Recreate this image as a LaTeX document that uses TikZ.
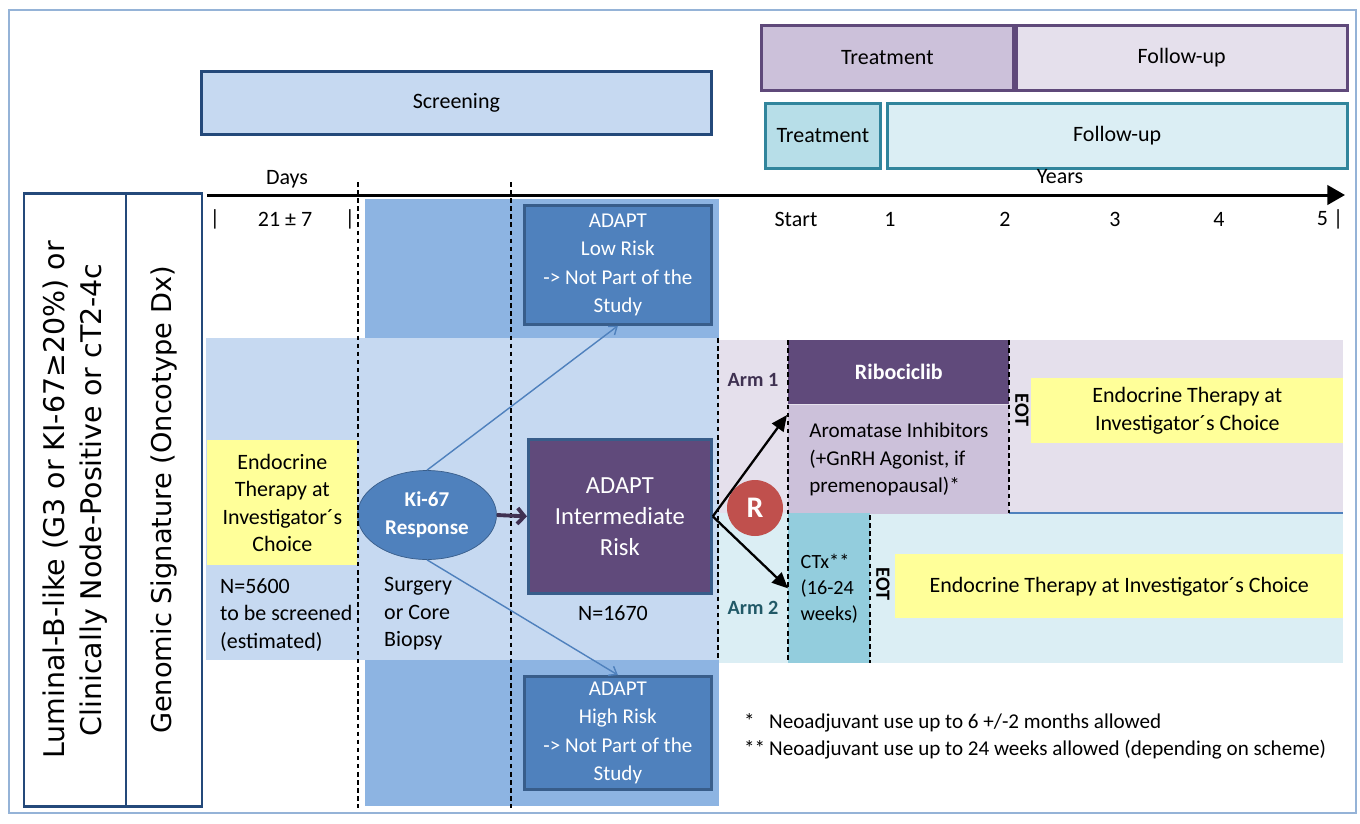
\documentclass[tikz,border=0pt]{standalone}
\usepackage{fontspec}
\setmainfont{Carlito}
\newfontfamily\widefont{DejaVu Sans}
\usetikzlibrary{arrows.meta, positioning, shapes.geometric}

\definecolor{framecol}{HTML}{95B3D7}
\definecolor{sideline}{HTML}{24497A}
\definecolor{screenfill}{HTML}{C6D9F1}
\definecolor{colfill}{HTML}{8DB4E2}
\definecolor{adaptblue}{HTML}{4F81BD}
\definecolor{adaptline}{HTML}{385D8A}
\definecolor{interfill}{HTML}{604A7B}
\definecolor{purpleline}{HTML}{5F497A}
\definecolor{purplemid}{HTML}{CCC1DA}
\definecolor{lavender}{HTML}{E5E0EC}
\definecolor{tealline}{HTML}{31859C}
\definecolor{teallight}{HTML}{B7DEE8}
\definecolor{tealpale}{HTML}{DBEEF4}
\definecolor{ctxfill}{HTML}{93CDDD}
\definecolor{yellowfill}{HTML}{FFFF99}
\definecolor{rred}{HTML}{C0504D}
\definecolor{armone}{HTML}{3F3151}
\definecolor{armtwo}{HTML}{215967}
\definecolor{kiarrowcol}{HTML}{403152}

\begin{document}
\begin{tikzpicture}[x=0.02cm, y=-0.02cm,
    font=\fontsize{12.5}{15.6}\selectfont,
    phase/.style={draw, line width=1.6pt, minimum height=1.3cm, anchor=north west},
    riskbox/.style={draw=adaptline, fill=adaptblue, line width=1.6pt, text=white, align=center,
        minimum width=3.74cm, anchor=north west, font=\fontsize{12}{16}\selectfont},
    sidebox/.style={draw=sideline, line width=1.6pt, rotate=90, minimum width=12.26cm, align=center,
        font=\widefont\fontsize{15.5}{21}\selectfont},
    yellowbox/.style={fill=yellowfill, align=center, anchor=north west},
    armbox/.style={anchor=north west, inner sep=0pt},
    armlabel/.style={font=\bfseries\fontsize{11.5}{14}\selectfont},
    eot/.style={rotate=-90, font=\bfseries\fontsize{11.5}{12}\selectfont},
    divider/.style={line width=0.9pt, dash pattern=on 2.6pt off 2pt},
    axisline/.style={line width=1.7pt, -{Triangle[length=10pt, width=11pt]}},
    thinarrow/.style={adaptblue, line width=0.8pt, -{Straight Barb[length=4pt, width=6pt]}},
    kiarrow/.style={kiarrowcol, line width=2.2pt, -{Straight Barb[length=4pt, width=9pt]}},
    randarrow/.style={line width=1.3pt, -{Triangle[length=9pt, width=8pt]}}
]
\useasboundingbox (0,0) rectangle (1360,823);
\draw[framecol, line width=0.8pt] (9,10) rectangle (1356,813);

% Hintergrundflaechen
\fill[colfill] (365,199) rectangle (719,806);
\fill[screenfill] (206,338) rectangle (719,660);
\fill[lavender] (719,340) rectangle (1343,513);
\fill[tealpale] (719,513) rectangle (1343,663);
\draw[adaptblue, line width=1.2pt] (788,513) -- (1343,513);

% Phasen oben
\node[phase, draw=sideline, fill=screenfill, minimum width=10.2cm, minimum height=1.26cm] (screen) at (200,70) {Screening};
\node[phase, draw=purpleline, fill=purplemid, minimum width=5.04cm] (treatP) at (760,24) {Treatment};
\node[phase, draw=purpleline, fill=lavender, minimum width=6.62cm, right=0pt of treatP] (followP) {Follow-up};
\node[phase, draw=tealline, fill=teallight, minimum width=2.3cm] (treatT) at (764,102) {Treatment};
\node[phase, draw=tealline, fill=tealpale, minimum width=9.2cm, right=0.08cm of treatT] (followT) {Follow-up};

% Zeitachse
\coordinate (axstart) at (207,195);
\coordinate (axend) at (1345,195);
\draw[axisline] (axstart) -- (axend);
\node (days) at (287,179) {Days};
\node (years) at (1060,177) {Years};
\node (bar1) at (215,219) {|};
\node (dayrange) at (285,219) {21 ± 7};
\node (bar2) at (350,219) {|};
\foreach \x/\t in {796/Start, 890/1, 1005/2, 1115/3, 1219/4}
    \node (yr\t) at (\x,219) {\t};
\node (yr5) at (1330,219) {5 |};

% Einschluss
\node[sidebox, minimum height=2.04cm, font=\widefont\fontsize{16.2}{21}\selectfont] (incl) at (75,500) {Luminal-B-like (G3 or KI-67≥20\%) or\\Clinically Node-Positive or cT2-4c};
\node[sidebox, minimum height=1.52cm] (genomic) at (164,500) {Genomic Signature (Oncotype Dx)};

% Screening-Phase
\node[yellowbox, minimum width=3.0cm, minimum height=2.5cm] (etleft) at (207,440) {Endocrine\\Therapy at\\Investigator´s\\Choice};
\node[anchor=west, align=left] (nscreen) at (214,615) {N=5600\\to be screened\\(estimated)};
\node[ellipse, fill=adaptblue, draw=adaptline, minimum width=2.78cm, minimum height=1.78cm, inner sep=0pt,
    text=white, align=center, font=\bfseries\fontsize{12}{16}\selectfont] (ki67) at (427,515) {Ki-67\\Response};
\node[anchor=west, align=left] (surgery) at (378,614) {Surgery\\or Core\\Biopsy};
\node[riskbox, minimum height=2.38cm] (lowrisk) at (523,204) {ADAPT\\Low Risk\\-> Not Part of the\\Study};
\node[riskbox, fill=interfill, minimum width=3.66cm, minimum height=3.08cm,
    font=\fontsize{14}{17.6}\selectfont] (inter) at (527,438) {ADAPT\\Intermediate\\Risk};
\node (ninter) at (613,613) {N=1670};
\node[riskbox, minimum height=2.2cm] (highrisk) at (523,675) {ADAPT\\High Risk\\-> Not Part of the\\Study};

% Arme
\node[armbox, fill=interfill, text=white, minimum width=4.42cm, minimum height=1.28cm,
    font=\bfseries\fontsize{12.5}{14}\selectfont] (ribo) at (788,340) {Ribociclib};
\node[armbox, fill=purplemid, minimum width=4.42cm, minimum height=2.18cm, align=left,
    font=\fontsize{12}{15.6}\selectfont, below=0pt of ribo] (arom) {Aromatase Inhibitors\\(+GnRH Agonist, if\\premenopausal)*};
\node[armbox, fill=ctxfill, minimum width=1.64cm, minimum height=3.0cm, align=left,
    font=\fontsize{11.5}{14.8}\selectfont] (ctx) at (788,513) {CTx**\\(16-24\\weeks)};
\node[yellowbox, minimum width=6.24cm, minimum height=1.3cm, font=\fontsize{12.5}{16}\selectfont] (etarm1) at (1031,378) {Endocrine Therapy at\\Investigator´s Choice};
\node[yellowbox, minimum width=8.96cm, minimum height=1.28cm] (etarm2) at (895,554) {Endocrine Therapy at Investigator´s Choice};
\node[eot] (eot1) at (1022,410) {EOT};
\node[eot] (eot2) at (883,584) {EOT};
\node[armlabel, text=armone] (arm1) at (753,380) {Arm 1};
\node[armlabel, text=armtwo] (arm2) at (753,608) {Arm 2};
\node[circle, fill=rred, text=white, minimum size=1.12cm, inner sep=0pt,
    font=\bfseries\fontsize{17}{17}\selectfont] (rand) at (755,508) {R};

% gestrichelte Linien
\draw[divider] (358,182) -- (358,808);
\draw[divider] (511,182) -- (511,808);
\draw[divider] (718,338) -- (718,660);
\draw[divider] (788,340) -- (788,663);
\draw[divider] (1009,340) -- (1009,513);
\draw[divider] (870,515) -- (870,663);

% Pfeile
\coordinate (arm1in) at (787,415);
\draw[thinarrow] (ki67.north) -- (lowrisk.south);
\draw[thinarrow] (ki67.south) -- (highrisk.north);
\draw[kiarrow] (ki67.east) -- (inter.west);
\draw[randarrow] (inter.east) -- (arm1in);
\draw[randarrow] (inter.east) -- (ctx.west);

% Fussnoten
\node[anchor=west, font=\fontsize{12}{14}\selectfont] (note1) at (738,723) {\makebox[0.5cm][l]{*}Neoadjuvant use up to 6 +/-2 months allowed};
\node[anchor=west, font=\fontsize{12}{14}\selectfont] (note2) at (738,750) {\makebox[0.5cm][l]{**}Neoadjuvant use up to 24 weeks allowed (depending on scheme)};

\end{tikzpicture}
\end{document}
